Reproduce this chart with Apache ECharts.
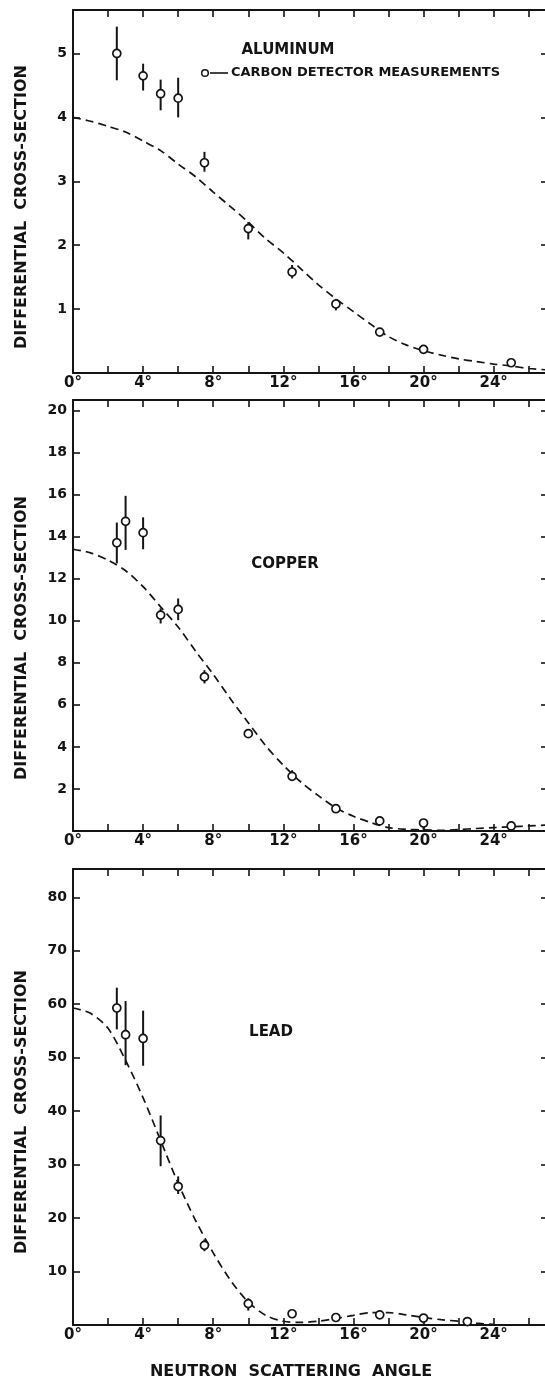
<!DOCTYPE html>
<html><head><meta charset="utf-8">
<script src="https://cdn.jsdelivr.net/npm/echarts@6/dist/echarts.min.js"></script>
<style>html,body{margin:0;padding:0;background:#fff}#c{width:545px;height:1384px}</style>
</head><body><div id="c"></div>
<script>
// ---------- data ----------
const curveAngles = [0,1,2,3,4,5,6,7,8,9,10,11,12,13,14,15,16,17,18,19,20,21,22,23,24,25,26,27];

// Aluminum
const alCurve   = [4.00,3.94,3.86,3.77,3.63,3.48,3.27,3.07,2.83,2.60,2.36,2.10,1.88,1.63,1.38,1.16,0.96,0.76,0.57,0.44,0.35,0.28,0.22,0.18,0.14,0.11,0.07,0.05];
const alAngles  = [2.5,4,5,6,7.5,10,12.5,15,17.5,20,25];
const alValues  = [5.00,4.65,4.37,4.30,3.29,2.26,1.58,1.08,0.64,0.37,0.16];
const alErrLow  = [4.58,4.42,4.11,4.00,3.15,2.09,1.48,0.98,0.59,null,null];
const alErrHigh = [5.42,4.84,4.59,4.62,3.46,2.36,1.69,1.16,0.69,null,null];

// Copper
const cuCurve   = [13.40,13.23,12.88,12.38,11.62,10.66,9.70,8.55,7.45,6.27,5.15,4.05,3.13,2.33,1.68,1.10,0.70,0.40,0.16,0.08,0.05,0.03,0.07,0.12,0.16,0.20,0.24,0.28];
const cuAngles  = [2.5,3,4,5,6,7.5,10,12.5,15,17.5,20,25];
const cuValues  = [13.71,14.73,14.19,10.27,10.54,7.33,4.63,2.60,1.06,0.48,0.38,0.24];
const cuErrLow  = [12.73,13.37,13.40,9.87,10.03,7.02,null,2.49,null,null,0.06,null];
const cuErrHigh = [14.67,15.94,14.92,10.59,11.06,7.65,null,2.89,null,null,0.38,null];

// Lead
const pbCurveAngles = [0,1,2,3,4,5,6,7,8,9,10,11,12,13,14,15,16,17,18,19,20,21,22,23,24];
const pbCurve   = [59.3,58.3,55.5,49.5,42.5,34.5,26.5,19.5,13.5,8.3,4.3,1.8,0.7,0.5,0.7,1.2,1.8,2.3,2.3,1.9,1.4,1.0,0.7,0.35,0.1];
const pbAngles  = [2.5,3,4,5,6,7.5,10,12.5,15,17.5,20,22.5];
const pbValues  = [59.3,54.3,53.6,34.5,25.9,14.9,4.0,2.1,1.4,1.9,1.3,0.65];
const pbErrLow  = [55.3,48.6,48.5,29.7,24.5,13.8,2.7,null,null,null,0.3,null];
const pbErrHigh = [63.1,60.6,58.8,39.2,27.8,16.0,5.0,null,null,null,1.3,null];

const xTickLabels = ['0°','4°','8°','12°','16°','20°','24°'];
const panelNames = ['ALUMINUM','COPPER','LEAD'];
const yMax = [5.68, 20.5, 85.3];
const yInterval = [1, 2, 10];

// ---------- helpers ----------
const INK = '#141414';
const FONT = 'DejaVu Sans';
const grids = [
  {left:73, top:10,  width:475, height:363, outerBoundsMode:'none', containLabel:false},
  {left:73, top:400, width:475, height:431, outerBoundsMode:'none', containLabel:false},
  {left:73, top:869, width:475, height:456, outerBoundsMode:'none', containLabel:false}
];
const xAxes = [], yAxes = [], series = [];
function xLab(v){ if (v % 4 === 0 && v <= 24) return xTickLabels[v/4]; return ''; }
grids.forEach((g, i) => {
  const common = {gridIndex:i, type:'value', min:0, max:27.1, interval:2,
    axisLine:{show:true, onZero:false, lineStyle:{color:INK, width:2}},
    axisTick:{show:true, inside:true, length:7, lineStyle:{color:INK, width:1.6}},
    splitLine:{show:false}};
  xAxes.push(Object.assign({}, common, {position:'bottom',
    axisLabel:{show:true, margin:3, formatter:xLab, color:INK, fontFamily:FONT, fontWeight:'bold', fontSize:15}}));
  xAxes.push(Object.assign({}, common, {position:'top', axisLabel:{show:false}}));
  const yc = {gridIndex:i, type:'value', min:0, max:yMax[i], interval:yInterval[i],
    axisLine:{show:true, onZero:false, lineStyle:{color:INK, width:2}},
    axisTick:{show:true, inside:true, length:7, lineStyle:{color:INK, width:1.6}},
    splitLine:{show:false}};
  yAxes.push(Object.assign({}, yc, {position:'left',
    axisLabel:{show:true, margin:6, color:INK, fontFamily:FONT, fontWeight:'bold', fontSize:14,
      formatter:v => (v > 0 && Math.abs(v/yInterval[i] - Math.round(v/yInterval[i])) < 1e-6) ? String(v) : ''}}));
  yAxes.push(Object.assign({}, yc, {position:'right', axisLabel:{show:false}}));
});

function addPanel(i, cAngles, curve, angles, values, lo, hi){
  series.push({type:'line', xAxisIndex:2*i, yAxisIndex:2*i, data:cAngles.map((a,k)=>[a, curve[k]]),
    showSymbol:false, smooth:0.3, lineStyle:{color:INK, width:1.7, type:[8,5]}, z:1, silent:true});
  const eb = [];
  angles.forEach((a,k)=>{ if (lo[k] != null) eb.push([a, lo[k], hi[k]]); });
  series.push({type:'custom', xAxisIndex:2*i, yAxisIndex:2*i, data:eb, encode:{x:0, y:[1,2]}, z:2, silent:true,
    renderItem(params, api){
      const p1 = api.coord([api.value(0), api.value(1)]);
      const p2 = api.coord([api.value(0), api.value(2)]);
      return {type:'line', shape:{x1:p1[0], y1:p1[1], x2:p2[0], y2:p2[1]}, style:{stroke:INK, lineWidth:2}};
    }});
  series.push({type:'scatter', xAxisIndex:2*i, yAxisIndex:2*i, data:angles.map((a,k)=>[a, values[k]]),
    symbol:'circle', symbolSize:8, itemStyle:{color:'#fff', borderColor:INK, borderWidth:1.7, opacity:1}, z:3, silent:true});
}
addPanel(0, curveAngles, alCurve, alAngles, alValues, alErrLow, alErrHigh);
addPanel(1, curveAngles, cuCurve, cuAngles, cuValues, cuErrLow, cuErrHigh);
addPanel(2, pbCurveAngles, pbCurve, pbAngles, pbValues, pbErrLow, pbErrHigh);

const tf = (size) => ({fontFamily:FONT, fontWeight:'bold', fontSize:size, fill:INK});
const graphic = [
  {type:'text', x:288, y:50, style:Object.assign({text:panelNames[0], align:'center', verticalAlign:'middle'}, tf(15))},
  {type:'circle', shape:{cx:205, cy:73, r:3.3}, style:{fill:'#fff', stroke:INK, lineWidth:1.5}},
  {type:'line', shape:{x1:210, y1:73, x2:228, y2:73}, style:{stroke:INK, lineWidth:1.6}},
  {type:'text', x:231, y:73, style:Object.assign({text:'CARBON DETECTOR MEASUREMENTS', align:'left', verticalAlign:'middle'}, tf(13))},
  {type:'text', x:285, y:564, style:Object.assign({text:panelNames[1], align:'center', verticalAlign:'middle'}, tf(15))},
  {type:'text', x:271, y:1032, style:Object.assign({text:panelNames[2], align:'center', verticalAlign:'middle'}, tf(15))},
  {type:'text', x:22, y:207, rotation:Math.PI/2, style:Object.assign({text:'DIFFERENTIAL  CROSS-SECTION', align:'center', verticalAlign:'middle'}, tf(16))},
  {type:'text', x:22, y:638, rotation:Math.PI/2, style:Object.assign({text:'DIFFERENTIAL  CROSS-SECTION', align:'center', verticalAlign:'middle'}, tf(16))},
  {type:'text', x:22, y:1112, rotation:Math.PI/2, style:Object.assign({text:'DIFFERENTIAL  CROSS-SECTION', align:'center', verticalAlign:'middle'}, tf(16))},
  {type:'text', x:291, y:1372, style:Object.assign({text:'NEUTRON  SCATTERING  ANGLE', align:'center', verticalAlign:'middle'}, tf(16))}
];

const chart = echarts.init(document.getElementById('c'), null, {renderer:'canvas'});
chart.setOption({animation:false, backgroundColor:'#fff', grid:grids, xAxis:xAxes, yAxis:yAxes, series:series, graphic:graphic});
</script></body></html>
